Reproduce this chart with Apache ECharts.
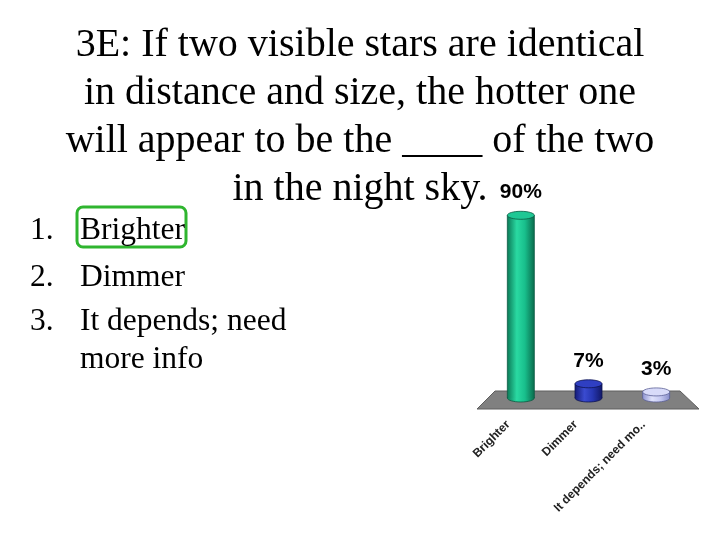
<!DOCTYPE html>
<html>
<head>
<meta charset="utf-8">
<script src="https://cdn.jsdelivr.net/npm/echarts@6/dist/echarts.min.js"></script>
<style>
  html, body { margin: 0; padding: 0; background: #fff; }
  #chart { width: 720px; height: 540px; }
</style>
</head>
<body>
<div id="chart"></div>
<script>
const titleLines = [
  '3E: If two visible stars are identical',
  'in distance and size, the hotter one',
  'will appear to be the ____ of the two',
  'in the night sky.'
];
const listNumbers = ['1.', '2.', '3.', ''];
const listTexts = ['Brighter', 'Dimmer', 'It depends; need', 'more info'];
const categories = ['Brighter', 'Dimmer', 'It depends; need mo..'];
const percents = [90, 7, 3];

// body gradient stops per bar: [edge, light, mid, edge], top colour, outline
const barColors = [
  { stops: ['#0b7a57', '#2ad9a2', '#18bf8c', '#0a6c4d'], top: '#1fc794', line: '#0d5a42' },
  { stops: ['#151c78', '#3a4bd0', '#2636b2', '#121868'], top: '#2f3fc2', line: '#0e1450' },
  { stops: ['#8f95d2', '#dfe2fb', '#c6caf2', '#868cc8'], top: '#d8dbf9', line: '#5a5f95' }
];

const chart = echarts.init(document.getElementById('chart'));

function bodyFill(c) {
  return new echarts.graphic.LinearGradient(0, 0, 1, 0, [
    { offset: 0, color: c.stops[0] },
    { offset: 0.35, color: c.stops[1] },
    { offset: 0.65, color: c.stops[2] },
    { offset: 1, color: c.stops[3] }
  ]);
}

function renderCylinder(params, api) {
  const idx = api.value(0);
  const base = api.coord([idx, 0]);
  const top = api.coord([idx, api.value(1)]);
  const rx = 13.5, ry = 4;
  const c = barColors[params.dataIndex];
  return {
    type: 'group',
    children: [
      {
        type: 'ellipse',
        shape: { cx: base[0], cy: base[1], rx: rx, ry: ry },
        style: { fill: bodyFill(c), stroke: c.line, lineWidth: 0.8 }
      },
      {
        type: 'rect',
        shape: { x: base[0] - rx, y: top[1], width: rx * 2, height: base[1] - top[1] },
        style: { fill: bodyFill(c), stroke: null }
      },
      {
        type: 'line',
        shape: { x1: base[0] - rx, y1: top[1], x2: base[0] - rx, y2: base[1] },
        style: { stroke: c.line, lineWidth: 0.8 }
      },
      {
        type: 'line',
        shape: { x1: base[0] + rx, y1: top[1], x2: base[0] + rx, y2: base[1] },
        style: { stroke: c.line, lineWidth: 0.8 }
      },
      {
        type: 'ellipse',
        shape: { cx: top[0], cy: top[1], rx: rx, ry: ry },
        style: { fill: c.top, stroke: c.line, lineWidth: 0.8 }
      },
      {
        type: 'text',
        style: {
          x: top[0], y: top[1] - 23,
          text: api.value(1) + '%',
          align: 'center', verticalAlign: 'middle',
          font: 'bold 21px "Liberation Sans", Arial, sans-serif',
          fill: '#000'
        }
      }
    ]
  };
}

const listFont = '31.5px "Liberation Serif", "Times New Roman", serif';
const listGraphics = [];
const listY = [227.5, 274.5, 318.5, 356.5];
listTexts.forEach(function (t, i) {
  if (listNumbers[i]) {
    listGraphics.push({
      type: 'text', left: 30, top: listY[i] - 13,
      style: { text: listNumbers[i], font: listFont, fill: '#000' }
    });
  }
  listGraphics.push({
    type: 'text', left: 80, top: listY[i] - 13,
    style: { text: t, font: listFont, fill: '#000' }
  });
});

const option = {
  backgroundColor: '#fff',
  animation: false,
  title: {
    text: titleLines.join('\n'),
    left: 'center',
    top: 16,
    textStyle: {
      fontFamily: '"Liberation Serif", "Times New Roman", serif',
      fontSize: 40,
      fontWeight: 'normal',
      color: '#000',
      lineHeight: 48
    }
  },
  grid: { left: 487, right: 30, top: 195, bottom: 142 },
  xAxis: {
    type: 'category',
    data: categories,
    axisLine: { show: false },
    axisTick: { show: false },
    axisLabel: {
      rotate: 45,
      margin: 12,
      padding: [0, 18, 0, 0],
      interval: 0,
      fontFamily: '"Liberation Sans", Arial, sans-serif',
      fontWeight: 'bold',
      fontSize: 12,
      color: '#222'
    }
  },
  yAxis: {
    type: 'value',
    min: 0,
    max: 100,
    show: false
  },
  graphic: [
    {
      type: 'polygon',
      z: -1,
      shape: { points: [[495, 391], [680, 391], [699, 409], [477, 409]] },
      style: { fill: '#808080', stroke: '#5e5e5e', lineWidth: 1 }
    },
    {
      type: 'rect',
      shape: { x: 77, y: 207, width: 109, height: 40, r: 6 },
      style: { fill: 'none', stroke: '#2fb52f', lineWidth: 3 }
    }
  ].concat(listGraphics),
  series: [{
    type: 'custom',
    renderItem: renderCylinder,
    data: percents.map(function (v, i) { return [i, v]; }),
    encode: { x: 0, y: 1 }
  }]
};

chart.setOption(option);
</script>
</body>
</html>
